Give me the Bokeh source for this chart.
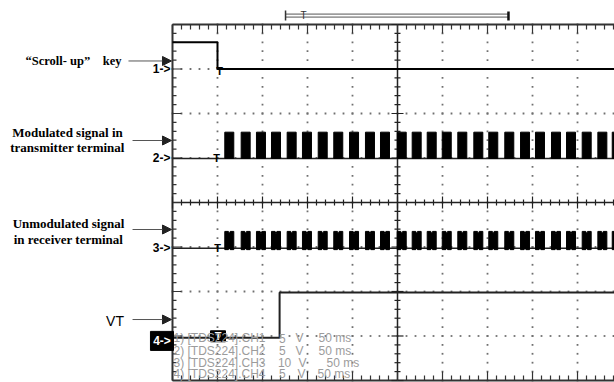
import numpy as np
from bokeh.plotting import figure
from bokeh.models import Range1d, Arrow, NormalHead
from bokeh.core.properties import value
from bokeh.embed import file_html
from bokeh.resources import INLINE

# ---------------- data (time in ms, amplitudes in volts) ----------------
channels = ["CH1", "CH2", "CH3", "CH4"]
volts_per_div = [5, 5, 10, 5]
ground_div = [3.0, 0.99, -1.03, -3.04]
time_per_div_ms = 50

ch1_t = [-250, -200, -200, 250]
ch1_v = [3.0, 3.0, 0.0, 0.0]

burst_start_ms = [-191.9, -173.7, -156.7, -140.0, -122.6, -105.6, -88.1, -70.8,
                  -53.3, -35.6, -18.9, -0.3, 16.3, 33.0, 49.7, 67.0, 84.8, 101.4,
                  119.2, 136.7, 153.3, 171.1, 187.8, 205.2, 222.6, 238.6]
burst_width_ms = 10.0
ch2_burst_v = 2.95
ch3_burst_v = 3.8

ch4_t = [-250, -131, -131, 250]
ch4_v = [0.0, 0.0, 5.1, 5.1]

trigger_ms = -200
record_start_ms, record_trig_ms, record_end_ms = -124.4, -104.4, 123.3

side_labels = ["\u201cScroll- up\u201d\u00a0\u00a0\u00a0\u00a0key", "Modulated signal in", "transmitter terminal",
               "Unmodulated signal", "in receiver terminal"]
info_prefix = ["1) [TDS224].CH1", "2) [TDS224].CH2", "3) [TDS224].CH3", "4) [TDS224].CH4"]
info_volts = ["5", "5", "10", "5"]

# ---------------- figure ----------------
PX_MS = 0.9      # pixels per ms
PX_DIV = 44.5    # pixels per division
p = figure(width=614, height=382, x_range=Range1d(-441.1, 241.1), y_range=Range1d(-4.045, 4.539),
           output_backend="svg", toolbar_location=None, min_border=0,
           x_axis_location=None, y_axis_location=None)
p.grid.visible = False
p.outline_line_color = None
p.background_fill_color = "white"

def dx(px):
    return px / PX_MS

def dy(px):
    return px / PX_DIV

# dotted graticule
vx = [k * time_per_div_ms for k in range(-4, 5) if k != 0]
yy = np.round(np.arange(-4, 4.001, 0.2), 3)
gx, gy = np.meshgrid(vx, yy)
p.scatter(gx.ravel(), gy.ravel(), size=1.8, color="#707070", marker="square", line_color=None)
hy = [k for k in range(-3, 4) if k != 0]
xx = np.arange(-250, 251, 10)
hx, hyy = np.meshgrid(xx, hy)
p.scatter(hx.ravel(), hyy.ravel(), size=1.8, color="#707070", marker="square", line_color=None)

# border and centre lines
p.line([-250, -250], [-4, 4], line_color="#333333", line_width=2)
p.line([-250, 250], [4, 4], line_color="#333333", line_width=2)
p.line([-250, 250], [-4, -4], line_color="#333333", line_width=2)
p.line([0, 0], [-4, 4], line_color="#222222", line_width=1.5)
p.line([-250, 250], [0, 0], line_color="#222222", line_width=1.5)

is_major_y = np.isclose(yy, np.round(yy))
lt = np.where(is_major_y, dx(9), dx(4))
p.segment(x0=np.full(len(yy), -250.0), y0=yy, x1=-250 + lt, y1=yy, line_color="#333333", line_width=1.2)
ct = np.where(is_major_y, dx(6), dx(3))
p.segment(x0=-ct, y0=yy, x1=ct, y1=yy, line_color="#222222", line_width=1.2)
is_major_x = (xx % 50) == 0
tt = np.where(is_major_x, dy(9), dy(5))
p.segment(x0=xx, y0=np.full(len(xx), 4.0), x1=xx, y1=4 - tt, line_color="#333333", line_width=1.2)
p.segment(x0=xx, y0=np.full(len(xx), -4.0), x1=xx, y1=-4 + tt, line_color="#333333", line_width=1.2)
hct = np.where(is_major_x, dy(6), dy(3))
p.segment(x0=xx, y0=-hct, x1=xx, y1=hct, line_color="#222222", line_width=1.2)

# record-view bracket above the screen
yb = 4.2
p.line([record_start_ms, record_end_ms], [yb + dy(1.5), yb + dy(1.5)], line_color="#555555", line_width=1)
p.line([record_start_ms, record_end_ms], [yb - dy(1.5), yb - dy(1.5)], line_color="#555555", line_width=1)
p.line([record_start_ms, record_start_ms], [yb - dy(5), yb + dy(5)], line_color="#333333", line_width=1.5)
p.line([record_end_ms, record_end_ms], [yb - dy(5), yb + dy(4)], line_color="#111111", line_width=2.5)
p.text([record_trig_ms], [yb], text=["T"], text_font=value("Liberation Sans"), text_font_size="10px",
       text_align="center", text_baseline="middle", text_color="#333333")

# ---------------- traces ----------------
def to_div(v, ch):
    return [ground_div[ch] + vv / volts_per_div[ch] for vv in v]

p.line(ch1_t, to_div(ch1_v, 0), line_color="black", line_width=2)

starts = np.array(burst_start_ms)
# CH2
p.line([-250, 250], [ground_div[1]] * 2, line_color="#222222", line_width=1.5)
p.quad(left=starts, right=starts + burst_width_ms, bottom=ground_div[1],
       top=ground_div[1] + ch2_burst_v / volts_per_div[1], fill_color="black", line_color="black")
# CH3
p.line([-250, 250], [ground_div[2]] * 2, line_color="#222222", line_width=1.5)
top3 = ground_div[2] + ch3_burst_v / volts_per_div[2]
bot3 = ground_div[2] - dy(1.3)
w = burst_width_ms
xs3 = [[s, s, s + 0.4 * w, s + 0.5 * w, s + 0.6 * w, s + w, s + w, s + 0.6 * w, s + 0.5 * w, s + 0.4 * w]
       for s in starts]
ys3 = [[bot3, top3, top3, top3 - dy(2.5), top3, top3, bot3, bot3, bot3 + dy(2), bot3] for s in starts]
p.patches(xs3, ys3, fill_color="black", line_color="black", line_width=1)
# CH4
p.line(ch4_t, to_div(ch4_v, 3), line_color="#222222", line_width=2)

# trigger markers
tfont = value("Liberation Sans")
p.text([trigger_ms + dx(2), trigger_ms + dx(-1), trigger_ms + dx(0)],
       [ground_div[0] - dy(2.5), ground_div[1] + dy(0.5), ground_div[2] + dy(0)],
       text=["T", "T", "T"], text_font=tfont, text_font_style="bold", text_font_size="11px",
       text_align="center", text_baseline="middle", text_color="black")
p.rect([trigger_ms + dx(0.5)], [ground_div[3] + dy(1.5)], width=dx(15), height=dy(11), fill_color="black",
       line_color="black")
p.text([trigger_ms + dx(0.5)], [ground_div[3] + dy(1.5)], text=["T"], text_font=tfont, text_font_style="bold",
       text_font_size="11px", text_align="center", text_baseline="middle", text_color="white")

# channel ground markers
p.text([-250 - dx(2)] * 3, ground_div[:3], text=["1->", "2->", "3->"], text_font=tfont,
       text_font_style="bold", text_font_size="12px", text_align="right", text_baseline="middle",
       text_color="black")
p.rect([-261.7], [-3.11], width=dx(23), height=dy(19), fill_color="black", line_color="black")
p.text([-261.7], [-3.11], text=["4->"], text_font=tfont, text_font_style="bold", text_font_size="12px",
       text_align="center", text_baseline="middle", text_color="white")

# info lines
iy = [-3.056, -3.326, -3.596, -3.843]
gray = "#9c9c9c"
fs = "12px"
p.text([-248.9] * 4, iy, text=info_prefix, text_font=tfont, text_font_size=fs,
       text_align="left", text_baseline="middle", text_color=gray)
p.text([-128.0, -128.0, -125.5, -128.0], iy, text=info_volts, text_font=tfont, text_font_size=fs,
       text_align="center", text_baseline="middle", text_color=gray)
p.text([-108.9, -108.9, -105.6, -106.7], iy, text=["V"] * 4, text_font=tfont, text_font_size=fs,
       text_align="center", text_baseline="middle", text_color=gray)
p.text([-87.8, -87.8, -78.9, -88.9], iy, text=["50 ms"] * 4, text_font=tfont, text_font_size=fs,
       text_align="left", text_baseline="middle", text_color=gray)

# side annotations
serif = value("Liberation Serif")
p.text([-413.3], [3.17], text=[side_labels[0]], text_font=serif, text_font_style="bold",
       text_font_size="12.5px", text_align="left", text_baseline="middle", text_color="black")
p.text([-366.7, -366.7, -365.6, -365.6], [1.573, 1.225, -0.472, -0.831], text=side_labels[1:],
       text_font=serif, text_font_style="bold", text_font_size="13px", text_align="center",
       text_baseline="middle", text_color="black")
p.text([-313.9], [-2.674], text=["VT"], text_font=tfont, text_font_size="14px", text_align="center",
       text_baseline="middle", text_color="black")

for xs, ysv in [(-298.9, 3.18), (-294.4, 1.393), (-294.4, -0.607), (-294.4, -2.63)]:
    p.add_layout(Arrow(end=NormalHead(size=9, fill_color="#222222", line_color="#222222"),
                       x_start=xs, y_start=ysv, x_end=-250 - dx(1), y_end=ysv,
                       line_color="#555555", line_width=1))

open("out.html", "w").write(file_html(p, INLINE))
